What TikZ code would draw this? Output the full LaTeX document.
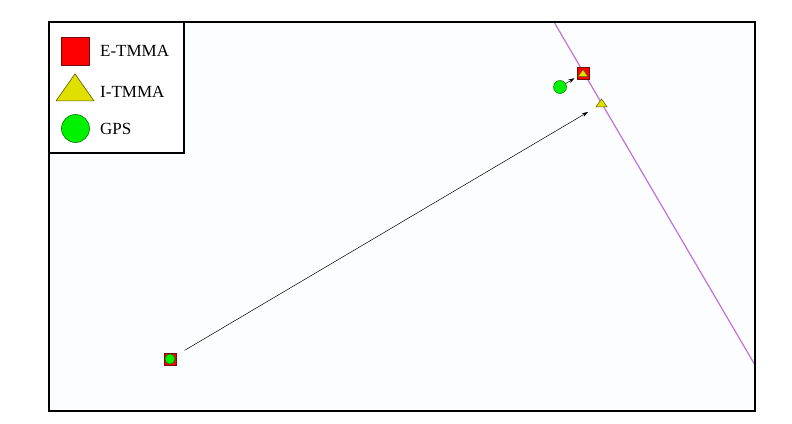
\documentclass[tikz,border=0pt]{standalone}
\usepackage{fontspec}
\setmainfont{Liberation Serif}
\usetikzlibrary{shapes.geometric,arrows.meta}
\definecolor{lilac}{rgb}{0.75, 0.45, 0.85}
\definecolor{paleback}{rgb}{0.99, 0.993, 1.0}
\definecolor{squarered}{rgb}{1.0, 0.0, 0.0}
\definecolor{darkred}{rgb}{0.45, 0.05, 0.05}
\definecolor{yellowtri}{rgb}{0.88, 0.88, 0.0}
\definecolor{gpsgreen}{rgb}{0.0, 0.95, 0.0}

\begin{document}
\begin{tikzpicture}[x=1pt,y=-1pt]
  \tikzset{ETMMAStyle/.style = {
    shape         = rectangle,
    draw          = darkred,
    fill          = squarered,
    line width    = 0.8pt,
    inner sep     = 0pt,
    outer sep     = 0pt,
    minimum size  = 12pt
    }
  }
  \tikzset{ITMMAStyle/.style = {
    shape         = isosceles triangle,
    shape border rotate = 90,
    isosceles triangle apex angle = 70,
    draw          = black!60!yellowtri,
    fill          = yellowtri,
    line width    = 0.5pt,
    inner sep     = 0pt,
    outer sep     = 0pt,
    minimum height = 8pt,
    minimum width = 11pt
    }
  }
  \tikzset{GPSStyle/.style = {
    shape         = circle,
    draw          = black!50!gpsgreen,
    fill          = gpsgreen,
    line width    = 0.5pt,
    inner sep     = 0pt,
    outer sep     = 0pt,
    minimum size  = 12pt
    }
  }
  \tikzset{LegendText/.style = {
    anchor        = west,
    inner sep     = 0pt,
    text          = black,
    font          = \fontsize{17}{20}\selectfont
    }
  }
  \tikzset{TrackStyle/.style = {
    draw          = black,
    line width    = 0.5pt,
    -{Stealth[length=6pt,width=4pt]}
    }
  }

  \useasboundingbox (0,0) rectangle (792,423);
  \fill[white] (0,0) rectangle (792,423);
  \fill[paleback] (49,22) rectangle (755,411);

  % coast line
  \coordinate (L1) at (554,22);
  \coordinate (L2) at (755,365);
  \draw[lilac, line width=1.2pt] (L1) -- (L2);

  % start point
  \node[ETMMAStyle](S0) at (170,359) {};
  \node[GPSStyle, minimum size=10pt](G0) at (170,359) {};

  % end points
  \node[ETMMAStyle](S1) at (583,73) {};
  \node[ITMMAStyle, minimum height=7pt, minimum width=9pt](T1) at (583,74) {};
  \node[GPSStyle, minimum size=13pt](G1) at (560,87) {};
  \node[ITMMAStyle](T2) at (601.5,104) {};

  \draw[TrackStyle, shorten <=12pt, shorten >=10pt](G0) -- (T2);
  \draw[TrackStyle, shorten >=3pt](G1) -- (S1);

  % legend
  \draw[black, line width=2pt, fill=white] (49,22) rectangle (184,153);
  \node[ETMMAStyle, minimum size=28pt, line width=0.6pt](E) at (75,51) {};
  \node[ITMMAStyle, minimum height=27pt, minimum width=34pt, line width=0.6pt](I) at (75,91) {};
  \node[GPSStyle, minimum size=28pt, line width=0.6pt](G) at (75.5,128.5) {};
  \node[LegendText](Etext) at (100,51) {E-TMMA};
  \node[LegendText](Itext) at (100,92) {I-TMMA};
  \node[LegendText](Gtext) at (100,129) {GPS};

  % frame
  \draw[black, line width=2.5pt] (49,22) rectangle (755,411);
\end{tikzpicture}
\end{document}
